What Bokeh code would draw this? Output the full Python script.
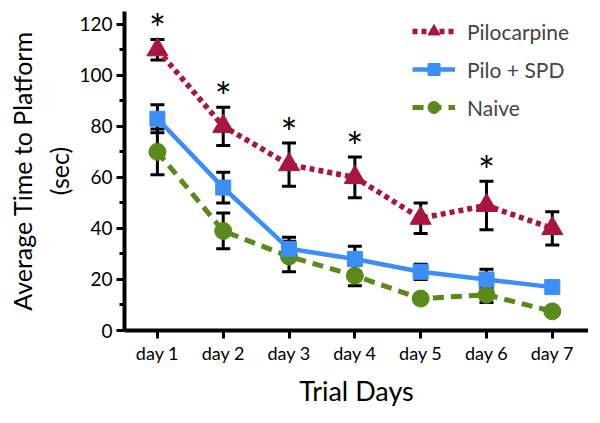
from bokeh.plotting import figure
from bokeh.models import (ColumnDataSource, Whisker, TeeHead, FixedTicker, Legend,
                          LegendItem, Range1d)
from bokeh.core.properties import value
from bokeh.embed import file_html
from bokeh.resources import INLINE

days = [1, 2, 3, 4, 5, 6, 7]
day_labels = ["day 1", "day 2", "day 3", "day 4", "day 5", "day 6", "day 7"]

pilo_mean = [110, 80, 65, 60, 44, 49, 40]
pilo_err = [4, 7.5, 8.5, 8, 6, 9.5, 6.5]
spd_mean = [83, 56, 32, 28, 23, 20, 17]
spd_err = [5.5, 6, 4.5, 5, 3, 4, 1]
naive_mean = [70, 39, 29, 21.5, 12.5, 14, 7.5]
naive_err = [9, 7, 6, 4, 1, 3, 1]
significant = [True, True, True, True, False, True, False]

RED = "#A8163F"
BLUE = "#3A8EF5"
GREEN = "#5A8A1A"
FONT = "Lato"

p = figure(frame_width=464, frame_height=319, output_backend="svg",
           toolbar_location=None,
           x_range=Range1d(0.5, 7.55), y_range=Range1d(0, 125),
           min_border_left=124, min_border_right=0, min_border_top=11,
           min_border_bottom=10)
p.outline_line_color = None
p.grid.grid_line_color = None
p.background_fill_color = "white"

def src(mean, err):
    return ColumnDataSource(dict(x=days, y=mean,
                                 upper=[m + e for m, e in zip(mean, err)],
                                 lower=[m - e for m, e in zip(mean, err)]))

s_pilo = src(pilo_mean, pilo_err)
s_spd = src(spd_mean, spd_err)
s_naive = src(naive_mean, naive_err)

for s in (s_naive, s_spd, s_pilo):
    w = Whisker(base="x", upper="upper", lower="lower", source=s, dimension="height",
                line_color="black", line_width=3,
                upper_head=TeeHead(size=14, line_width=3, line_color="black"),
                lower_head=TeeHead(size=14, line_width=3, line_color="black"))
    p.add_layout(w)

ln_naive = p.line("x", "y", source=s_naive, line_color=GREEN, line_width=5,
                  line_dash="11 7")
ln_spd = p.line("x", "y", source=s_spd, line_color=BLUE, line_width=4.5)
ln_pilo = p.line("x", "y", source=s_pilo, line_color=RED, line_width=5.5,
                 line_dash="5 4")

mk_naive = p.scatter("x", "y", source=s_naive, marker="circle", size=17,
                     fill_color=GREEN, line_color=GREEN)
mk_spd = p.scatter("x", "y", source=s_spd, marker="square", size=15,
                   fill_color=BLUE, line_color=BLUE)
mk_pilo = p.scatter("x", "y", source=s_pilo, marker="triangle", size=21,
                    fill_color=RED, line_color=RED)

star_x = [d for d, s in zip(days, significant) if s]
star_y = [m + e + 4 for m, e, s in zip(pilo_mean, pilo_err, significant) if s]
p.text(x=star_x, y=star_y, text=["*"] * len(star_x), text_font=value(FONT),
       text_font_size="40px", text_align="center", text_baseline="middle",
       text_color="black")

# axes styling
p.xaxis.ticker = FixedTicker(ticks=days)
p.xaxis.major_label_overrides = {d: l for d, l in zip(days, day_labels)}
p.yaxis.ticker = FixedTicker(ticks=[0, 20, 40, 60, 80, 100, 120],
                             minor_ticks=[10, 30, 50, 70, 90, 110])
for ax in (p.xaxis[0], p.yaxis[0]):
    ax.axis_line_width = 4
    ax.axis_line_color = "black"
    ax.major_tick_line_width = 3
    ax.major_tick_line_color = "black"
    ax.major_tick_out = 8
    ax.major_tick_in = 0
    ax.major_label_text_font = FONT
    ax.major_label_text_color = "black"
    ax.axis_label_text_font = FONT
    ax.axis_label_text_font_style = "normal"
    ax.axis_label_text_color = "black"
p.xaxis.minor_tick_line_color = None
p.yaxis.minor_tick_line_width = 3
p.yaxis.minor_tick_line_color = "black"
p.yaxis.minor_tick_out = 5
p.yaxis.minor_tick_in = 0
p.xaxis.major_label_text_font_size = "18px"
p.yaxis.major_label_text_font_size = "19px"
p.xaxis.major_label_standoff = 3
p.yaxis.major_label_standoff = 4
p.xaxis.axis_label = "Trial Days"
p.xaxis.axis_label_text_font_size = "27px"
p.xaxis.axis_label_standoff = 7
p.yaxis.axis_label = "Average Time to Platform\n(sec)"
p.yaxis.axis_label_text_font_size = "25px"
p.yaxis.axis_label_standoff = 2
p.yaxis.axis_label_text_line_height = 1.25

legend = Legend(items=[
    LegendItem(label="Pilocarpine", renderers=[ln_pilo, mk_pilo]),
    LegendItem(label="Pilo + SPD", renderers=[ln_spd, mk_spd]),
    LegendItem(label="Naive", renderers=[ln_naive, mk_naive]),
], location=(288, 208), padding=0, margin=0, spacing=8, glyph_width=43,
    glyph_height=30, label_standoff=12, label_text_font=FONT,
    label_text_font_size="21px", border_line_color=None,
    background_fill_alpha=0)
p.add_layout(legend)

open("out.html", "w").write(file_html(p, INLINE))
